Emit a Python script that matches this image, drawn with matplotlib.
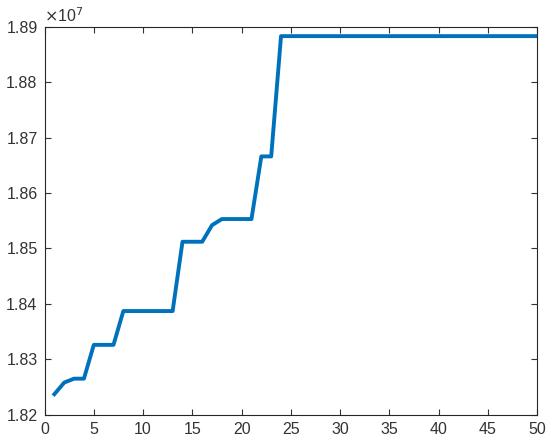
import matplotlib
matplotlib.use("Agg")
import matplotlib.pyplot as plt
import numpy as np

iterations = list(range(1, 51))
fitness = [1.8237e7, 1.8258e7, 1.8265e7, 1.8265e7, 1.8326e7, 1.8326e7, 1.8326e7,
           1.8387e7, 1.8387e7, 1.8387e7, 1.8387e7, 1.8387e7, 1.8387e7,
           1.8512e7, 1.8512e7, 1.8512e7, 1.8542e7, 1.8553e7, 1.8553e7, 1.8553e7, 1.8553e7,
           1.8666e7, 1.8666e7] + [1.8883e7] * 27

xticks = [0, 5, 10, 15, 20, 25, 30, 35, 40, 45, 50]
yticks = [1.82e7, 1.83e7, 1.84e7, 1.85e7, 1.86e7, 1.87e7, 1.88e7, 1.89e7]

plt.rcParams['font.family'] = ['Liberation Sans', 'DejaVu Sans']
fig = plt.figure(figsize=(5.5, 4.48), dpi=100)
ax = fig.add_axes([44.5/550, 1-414.7/448, (537.3-44.5)/550, (414.7-26.7)/448])
ax.plot(iterations, fitness, color='#0072BD', linewidth=2.8)
ax.set_xlim(0, 50)
ax.set_ylim(1.82e7, 1.89e7)
ax.set_xticks(xticks)
ax.set_yticks(yticks)
ax.set_yticklabels([f"{v/1e7:.2f}" for v in yticks])
ax.tick_params(direction='in', length=4, width=0.8, colors='#333333', labelsize=11.5,
               top=True, right=True, pad=5)
for s in ax.spines.values():
    s.set_color('#262626')
    s.set_linewidth(0.8)
ax.text(0, 1.005, r'$\times$10$^{7}$', transform=ax.transAxes, ha='left', va='bottom',
        fontsize=11.5, color='#333333')
fig.savefig('out.png', dpi=100)
